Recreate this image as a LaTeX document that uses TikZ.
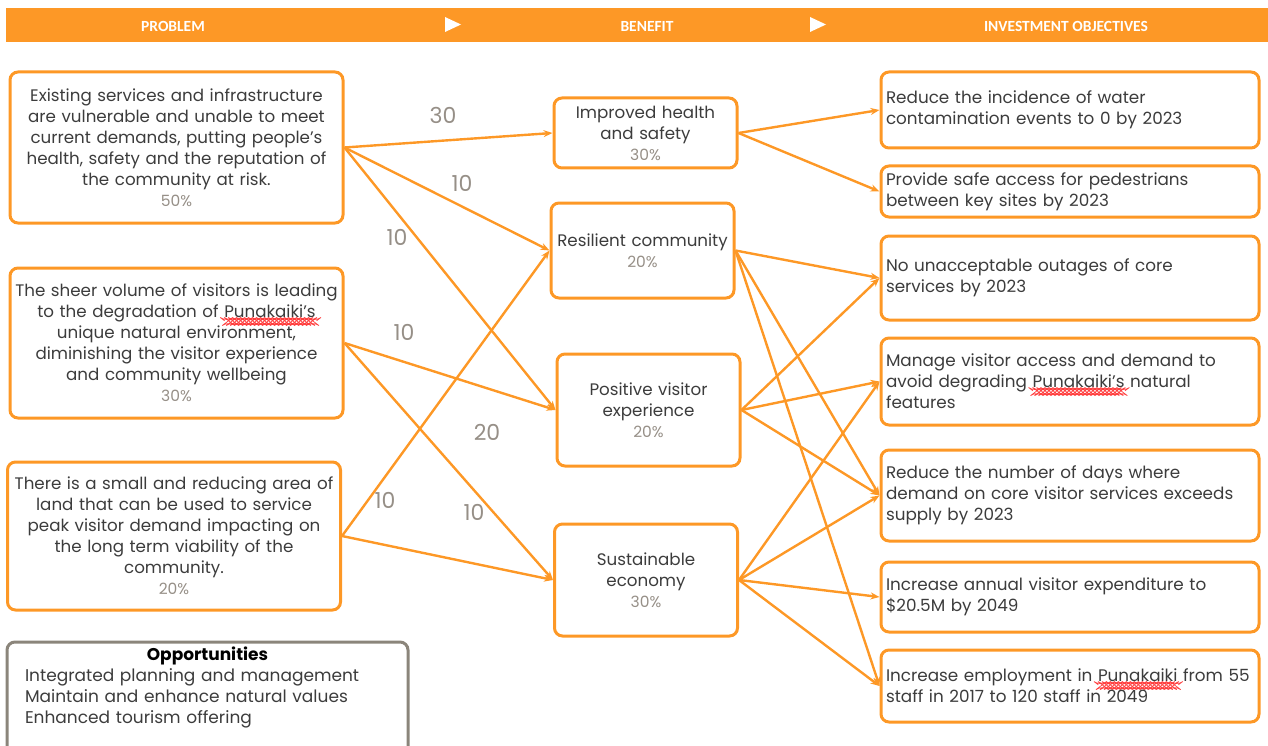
\documentclass[tikz,border=0pt]{standalone}
\usepackage{fontspec}
\setmainfont{Poppins}
\newfontfamily\headfont{Carlito}
\usetikzlibrary{arrows.meta}
\definecolor{mainorange}{RGB}{253,152,38}
\definecolor{bodytext}{RGB}{60,60,60}
\definecolor{pctgray}{RGB}{150,143,135}
\definecolor{oppgray}{RGB}{139,133,123}
\newcommand{\pct}[1]{\\{\color{pctgray}\fontsize{15.5}{20}\selectfont #1}}
\newcount\wavek
\newcount\wavecount
\newcommand{\spellwave}[1]{\setbox0\hbox{#1}\wavecount=\numexpr\wd0/131072\relax%
  \rlap{\begin{pgfpicture}\pgfsetbaseline{0pt}\pgfsetlinewidth{0.7pt}\pgfsetstrokecolor{red!75}%
    \pgfpathmoveto{\pgfpoint{0pt}{-3pt}}\wavek=0
    \loop\advance\wavek by 1
      \ifodd\wavek\pgfpathlineto{\pgfpoint{2pt*\the\wavek}{-4.5pt}}%
      \else\pgfpathlineto{\pgfpoint{2pt*\the\wavek}{-3pt}}\fi
    \ifnum\wavek<\wavecount\repeat
    \pgfusepath{stroke}\end{pgfpicture}}#1}
\begin{document}
\begin{tikzpicture}[x=1pt,y=-1pt,
    box/.style={draw=mainorange, line width=3pt, rounded corners=8pt, inner sep=4pt,
      align=center, text=bodytext, font=\fontsize{16.7}{21}\selectfont},
    probbox/.style={box, text width=325pt},
    benbox/.style={box, text width=175pt},
    objbox/.style={box, align=left, inner xsep=5pt, text width=368pt,
      font=\fontsize{16.8}{21}\selectfont},
    link/.style={draw=mainorange, line width=2.4pt, -{Stealth[length=9pt,width=7pt]}},
    weight/.style={text=pctgray, font=\fontsize{22}{22}\selectfont},
    headtext/.style={text=white, font=\headfont\bfseries\fontsize{15.5}{16}\selectfont}]
  \path[use as bounding box, clip] (0,0) rectangle (1268,746);
  \fill[mainorange] (6,8) rectangle (1268,42);
  \node[headtext] (hprob) at (173,26) {PROBLEM};
  \node[headtext] (hben) at (647,26) {BENEFIT};
  \node[headtext] (hobj) at (1066,26) {INVESTMENT OBJECTIVES};
  \fill[white] (445,17) -- (461,24.5) -- (445,32) -- cycle
               (810,17) -- (826,24.5) -- (810,32) -- cycle;

  \node[probbox, minimum height=151pt] (p1) at (176.5,147.5)
    {Existing services and infrastructure\\are vulnerable and unable to meet\\current demands, putting people’s\\health, safety and the reputation of\\the community at risk.\pct{50\%}};
  \node[probbox, minimum height=150pt] (p2) at (176.5,343)
    {The sheer volume of visitors is leading\\to the degradation of \spellwave{Punakaiki’s}\\unique natural environment,\\diminishing the visitor experience\\and community wellbeing\pct{30\%}};
  \node[probbox, minimum height=148pt] (p3) at (174,536)
    {There is a small and reducing area of\\land that can be used to service\\peak visitor demand impacting on\\the long term viability of the\\community.\pct{20\%}};
  \draw[oppgray, line width=3pt, rounded corners=8pt] (7,642) rectangle (408,770);
  \node[anchor=north, text=bodytext, align=left, text width=365pt, inner sep=0pt,
        font=\fontsize{17}{21}\selectfont] (opp) at (207.5,647)
    {\centering\textbf{\color{black}Opportunities}\par\raggedright
     Integrated planning and management\\Maintain and enhance natural values\\Enhanced tourism offering};

  \node[benbox, minimum height=70pt] (b1) at (645.5,133) {Improved health\\and safety\pct{30\%}};
  \node[benbox, minimum height=95pt] (b2) at (642.5,250.5) {Resilient community\pct{20\%}};
  \node[benbox, minimum height=112pt] (b3) at (648.5,410) {Positive visitor\\experience\pct{20\%}};
  \node[benbox, minimum height=112pt] (b4) at (646,580) {Sustainable\\economy\pct{30\%}};

  \node[objbox, minimum height=76pt] (o1) at (1070,110) {Reduce the incidence of water\\contamination events to 0 by 2023};
  \node[objbox, minimum height=51pt] (o2) at (1070,191.5) {Provide safe access for pedestrians\\between key sites by 2023};
  \node[objbox, minimum height=84pt] (o3) at (1070,278) {No unacceptable outages of core\\services by 2023};
  \node[objbox, minimum height=87pt] (o4) at (1070,381.5) {Manage visitor access and demand to\\avoid degrading \spellwave{Punakaiki’s} natural\\features};
  \node[objbox, minimum height=91pt] (o5) at (1070,495.5) {Reduce the number of days where\\demand on core visitor services exceeds\\supply by 2023};
  \node[objbox, minimum height=70pt] (o6) at (1070,597) {Increase annual visitor expenditure to\\\$20.5M by 2049};
  \node[objbox, minimum height=72pt] (o7) at (1070,686) {Increase employment in \spellwave{Punakaiki} from 55\\staff in 2017 to 120 staff in 2049};

  \foreach \from/\to in {p1/b1, p1/b2, p1/b3, p2/b3, p2/b4, p3/b2, p3/b4,
      b1/o1, b1/o2, b2/o3, b2/o5, b2/o7, b3/o3, b3/o4, b3/o5,
      b4/o4, b4/o5, b4/o6, b4/o7}
    \draw[link] (\from.east) -- (\to.west);

  \node[weight] (w1) at (443,115) {30};
  \node[weight] (w2) at (462,183) {10};
  \node[weight] (w3) at (397,237) {10};
  \node[weight] (w4) at (404,332) {10};
  \node[weight] (w5) at (487,432) {20};
  \node[weight] (w6) at (385,500) {10};
  \node[weight] (w7) at (474,512) {10};
\end{tikzpicture}
\end{document}
